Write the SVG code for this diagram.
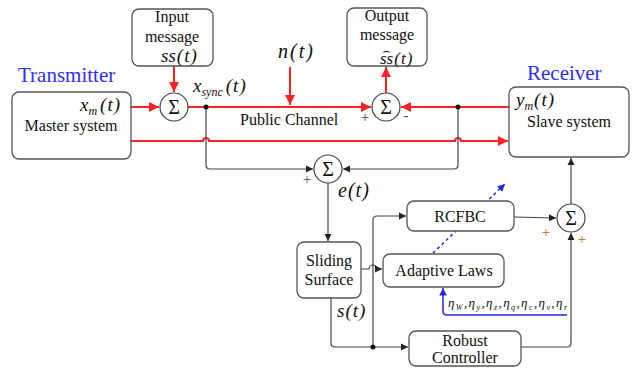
<svg xmlns="http://www.w3.org/2000/svg" width="636" height="370" viewBox="0 0 636 370">
  <defs>
    <marker id="aRed" viewBox="0 0 10 10" refX="10" refY="5" markerWidth="5" markerHeight="5" orient="auto" markerUnits="strokeWidth">
      <path d="M0,0 L10,5 L0,10 z" fill="#f22"/>
    </marker>
    <marker id="aBlk" viewBox="0 0 10 10" refX="10" refY="5" markerWidth="6" markerHeight="6" orient="auto" markerUnits="strokeWidth">
      <path d="M0,0 L10,5 L0,10 z" fill="#222"/>
    </marker>
    <marker id="aBlue" viewBox="0 0 10 10" refX="10" refY="5" markerWidth="5" markerHeight="5" orient="auto" markerUnits="strokeWidth">
      <path d="M0,0 L10,5 L0,10 z" fill="#2424e8"/>
    </marker>
  </defs>

  <!-- titles -->
  <text font-family="Liberation Serif" font-size="21" fill="#2f2ff2" x="18" y="82">Transmitter</text>
  <text font-family="Liberation Serif" font-size="21" fill="#2f2ff2" x="527" y="80">Receiver</text>

  <!-- connectors -->
  <g id="connectors" fill="none">
    <!-- red signal paths -->
    <g stroke="#f22" stroke-width="2">
      <path d="M131,107 H159" marker-end="url(#aRed)"/>
      <path d="M174,66 V92" marker-end="url(#aRed)"/>
      <path d="M188,107 H371" marker-end="url(#aRed)"/>
      <path d="M290,67 V105" marker-end="url(#aRed)"/>
      <path d="M509,107 H401" marker-end="url(#aRed)"/>
      <path d="M386,93 V67" marker-end="url(#aRed)"/>
      <path d="M131,141 H203 a3,3 0 0 1 6,0 H455 a3,3 0 0 1 6,0 H508" marker-end="url(#aRed)"/>
    </g>
    <!-- error and controller paths -->
    <g stroke="#444" stroke-width="1.2">
      <path d="M206,107 V165 Q206,169 210,169 H313" marker-end="url(#aBlk)"/>
      <path d="M458,107 V165 Q458,169 454,169 H343" marker-end="url(#aBlk)"/>
      <path d="M328,183 V241" marker-end="url(#aBlk)"/>
      <path d="M361,269 H369 a4,4 0 0 1 8,0 H382" marker-end="url(#aBlk)"/>
      <path d="M331,298 V343 Q331,347 335,347 H408" marker-end="url(#aBlk)"/>
      <path d="M373,347 V220 Q373,216 377,216 H406" marker-end="url(#aBlk)"/>
      <path d="M514,217 L556,218" marker-end="url(#aBlk)"/>
      <path d="M521,347 H567 Q571,347 571,343 V233" marker-end="url(#aBlk)"/>
      <path d="M571,204 V158" marker-end="url(#aBlk)"/>
    </g>
    <!-- adaptation paths -->
    <g stroke="#2424e8" stroke-width="1.5">
      <path d="M433,253 L505,184" stroke-dasharray="3,3" marker-end="url(#aBlue)"/>
      <path d="M567,315 H447 Q443,315 443,311 V288" marker-end="url(#aBlue)"/>
    </g>
    <g fill="#111">
      <circle cx="206" cy="107" r="2.5"/>
      <circle cx="458" cy="107" r="2.5"/>
      <circle cx="373" cy="347" r="2.5"/>
    </g>
  </g>

  <!-- master system -->
  <g id="master">
    <rect x="12" y="92" width="119" height="67" rx="7" fill="#fff" stroke="#555" stroke-width="1.3"/>
    <text font-family="Liberation Serif" font-style="italic" font-size="19" fill="#111" x="80" y="111">x<tspan font-size="12" dy="4">m</tspan><tspan dy="-4" dx="3">(</tspan><tspan dx="1">t</tspan><tspan dx="1">)</tspan></text>
    <text font-family="Liberation Serif" font-size="16" fill="#111" text-anchor="middle" x="71" y="131">Master system</text>
  </g>

  <!-- input message -->
  <g id="input">
    <rect x="132" y="9" width="81" height="57" rx="7" fill="#fff" stroke="#555" stroke-width="1.3"/>
    <text font-family="Liberation Serif" font-size="16" fill="#111" text-anchor="middle" x="172" y="22">Input</text>
    <text font-family="Liberation Serif" font-size="16" fill="#111" text-anchor="middle" x="172" y="42">message</text>
    <text font-family="Liberation Serif" font-style="italic" font-size="19" fill="#111" x="161" y="62">ss<tspan dx="1">(</tspan><tspan dx="1">t</tspan><tspan dx="1">)</tspan></text>
  </g>

  <!-- output message -->
  <g id="output">
    <rect x="347" y="8" width="80" height="58" rx="7" fill="#fff" stroke="#555" stroke-width="1.3"/>
    <text font-family="Liberation Serif" font-size="16" fill="#111" text-anchor="middle" x="387" y="21">Output</text>
    <text font-family="Liberation Serif" font-size="16" fill="#111" text-anchor="middle" x="387" y="40">message</text>
    <text font-family="DejaVu Sans" font-size="9" fill="#111" text-anchor="middle" x="386" y="54" transform="translate(386 0) scale(1.5 1) translate(-386 0)">⌢</text>
    <text font-family="Liberation Serif" font-style="italic" font-size="17" fill="#111" x="380" y="64">ss<tspan dx="1">(</tspan><tspan dx="1">t</tspan><tspan dx="1">)</tspan></text>
  </g>

  <!-- summing junctions -->
  <g id="sum1">
    <circle cx="174" cy="107" r="14" fill="#fff" stroke="#444" stroke-width="1.2"/>
    <text font-family="Liberation Serif" font-size="20" fill="#111" text-anchor="middle" x="174" y="114">Σ</text>
  </g>
  <g id="sum2">
    <circle cx="386" cy="107" r="14" fill="#fff" stroke="#444" stroke-width="1.2"/>
    <text font-family="Liberation Serif" font-size="20" fill="#111" text-anchor="middle" x="386" y="114">Σ</text>
    <text font-family="Liberation Serif" font-size="15" fill="#444" text-anchor="middle" x="365" y="122">+</text>
    <text font-family="Liberation Serif" font-size="15" fill="#444" text-anchor="middle" x="406" y="120">-</text>
  </g>
  <g id="sum3">
    <circle cx="328" cy="169" r="14" fill="#fff" stroke="#444" stroke-width="1.2"/>
    <text font-family="Liberation Serif" font-size="20" fill="#111" text-anchor="middle" x="328" y="176">Σ</text>
    <text font-family="Liberation Serif" font-size="15" fill="#444" text-anchor="middle" x="307" y="184">+</text>
  </g>
  <g id="sum4">
    <circle cx="571" cy="218" r="14" fill="#fff" stroke="#444" stroke-width="1.2"/>
    <text font-family="Liberation Serif" font-size="20" fill="#111" text-anchor="middle" x="571" y="225">Σ</text>
    <text font-family="Liberation Serif" font-size="15" fill="#b5651d" text-anchor="middle" x="546" y="237">+</text>
    <text font-family="Liberation Serif" font-size="15" fill="#b5651d" text-anchor="middle" x="582" y="244">+</text>
  </g>

  <!-- slave system -->
  <g id="slave">
    <rect x="509" y="87" width="120" height="70" rx="7" fill="#fff" stroke="#555" stroke-width="1.3"/>
    <text font-family="Liberation Serif" font-style="italic" font-size="19" fill="#111" x="516" y="106">y<tspan font-size="12" dy="4">m</tspan><tspan dy="-4" dx="1">(</tspan><tspan dx="1">t</tspan><tspan dx="1">)</tspan></text>
    <text font-family="Liberation Serif" font-size="16" fill="#111" text-anchor="middle" x="569" y="127">Slave system</text>
  </g>

  <!-- sliding surface -->
  <g id="sliding">
    <rect x="297" y="242" width="64" height="56" rx="7" fill="#fff" stroke="#555" stroke-width="1.3"/>
    <text font-family="Liberation Serif" font-size="16" fill="#111" text-anchor="middle" x="329" y="266">Sliding</text>
    <text font-family="Liberation Serif" font-size="16" fill="#111" text-anchor="middle" x="329" y="285">Surface</text>
  </g>

  <!-- RCFBC -->
  <g id="rcfbc">
    <rect x="407" y="201" width="107" height="30" rx="7" fill="#fff" stroke="#555" stroke-width="1.3"/>
    <text font-family="Liberation Serif" font-size="16" fill="#111" text-anchor="middle" x="460" y="222">RCFBC</text>
  </g>

  <!-- adaptive laws -->
  <g id="adaptive">
    <rect x="383" y="254" width="121" height="33" rx="7" fill="#fff" stroke="#555" stroke-width="1.3"/>
    <text font-family="Liberation Serif" font-size="16" fill="#111" text-anchor="middle" x="444" y="276">Adaptive Laws</text>
  </g>

  <!-- robust controller -->
  <g id="robust">
    <rect x="409" y="331" width="112" height="35" rx="7" fill="#fff" stroke="#555" stroke-width="1.3"/>
    <text font-family="Liberation Serif" font-size="16" fill="#111" text-anchor="middle" x="465" y="346">Robust</text>
    <text font-family="Liberation Serif" font-size="16" fill="#111" text-anchor="middle" x="465" y="363">Controller</text>
  </g>

  <!-- signal labels -->
  <g id="labels">
    <text font-family="Liberation Serif" font-style="italic" font-size="20" fill="#111" x="278" y="58">n<tspan dx="2">(</tspan><tspan dx="2">t</tspan><tspan dx="2">)</tspan></text>
    <text font-family="Liberation Serif" font-style="italic" font-size="19" fill="#111" x="193" y="92">x<tspan font-size="12" dy="4">sync</tspan><tspan dy="-4" dx="3">(</tspan><tspan dx="1">t</tspan><tspan dx="1">)</tspan></text>
    <text font-family="Liberation Serif" font-size="16" fill="#111" x="240" y="125">Public Channel</text>
    <text font-family="Liberation Serif" font-style="italic" font-size="20" fill="#111" x="338" y="197">e<tspan dx="1">(</tspan><tspan dx="1">t</tspan><tspan dx="1">)</tspan></text>
    <text font-family="Liberation Serif" font-style="italic" font-size="19" fill="#111" x="337" y="317">s<tspan dx="1">(</tspan><tspan dx="1">t</tspan><tspan dx="1">)</tspan></text>
    <text font-family="Liberation Serif" font-style="italic" font-size="13" fill="#111" x="448" y="307" textLength="119" lengthAdjust="spacing">η<tspan font-size="8" dy="3">W</tspan><tspan dy="-3">,η</tspan><tspan font-size="8" dy="3">y</tspan><tspan dy="-3">,η</tspan><tspan font-size="8" dy="3">z</tspan><tspan dy="-3">,η</tspan><tspan font-size="8" dy="3">q</tspan><tspan dy="-3">,η</tspan><tspan font-size="8" dy="3">c</tspan><tspan dy="-3">,η</tspan><tspan font-size="8" dy="3">v</tspan><tspan dy="-3">,η</tspan><tspan font-size="8" dy="3">r</tspan></text>
  </g>
</svg>
